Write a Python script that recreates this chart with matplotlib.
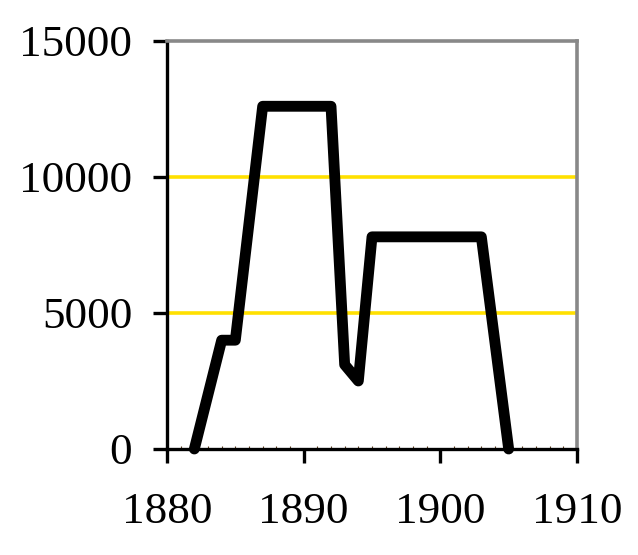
import matplotlib
matplotlib.use('Agg')
from matplotlib import pyplot as plt
from matplotlib.ticker import MultipleLocator

# values
years = [1882, 1884, 1885, 1887, 1892, 1893, 1894, 1895, 1903, 1905]
values = [0, 4000, 4000, 12600, 12600, 3100, 2500, 7800, 7800, 0]
x_ticks = [1880, 1890, 1900, 1910]
y_ticks = [0, 5000, 10000, 15000]

plt.rcParams['font.family'] = ['Liberation Serif', 'DejaVu Serif']

fig = plt.figure(figsize=(6.38, 5.55), dpi=100)
ax = fig.add_axes([167/638, 1-449/555, 410/638, 408/555])

# yellow gridlines
for y in [5000, 10000]:
    ax.axhline(y, color='#FFE000', lw=2.6, zorder=1)

ax.plot(years, values, color='black', lw=7.8, solid_capstyle='round',
        solid_joinstyle='round', zorder=3, clip_on=False)

ax.set_xlim(1880, 1910)
ax.set_ylim(0, 15000)
ax.set_xticks(x_ticks)
ax.set_yticks(y_ticks)
ax.xaxis.set_minor_locator(MultipleLocator(1))

for side in ['left', 'bottom']:
    ax.spines[side].set_color('black')
    ax.spines[side].set_linewidth(2.4)
for side in ['top', 'right']:
    ax.spines[side].set_color('#888888')
    ax.spines[side].set_linewidth(2.6)

ax.tick_params(axis='both', which='major', direction='out', length=10,
               width=2.4, labelsize=32.5, color='black')
ax.tick_params(axis='x', which='major', pad=21)
ax.tick_params(axis='y', which='major', pad=15)
ax.tick_params(axis='x', which='minor', direction='in', length=2,
               width=0.8, color='#5a3a1a')

plt.savefig('out.png', dpi=100)
